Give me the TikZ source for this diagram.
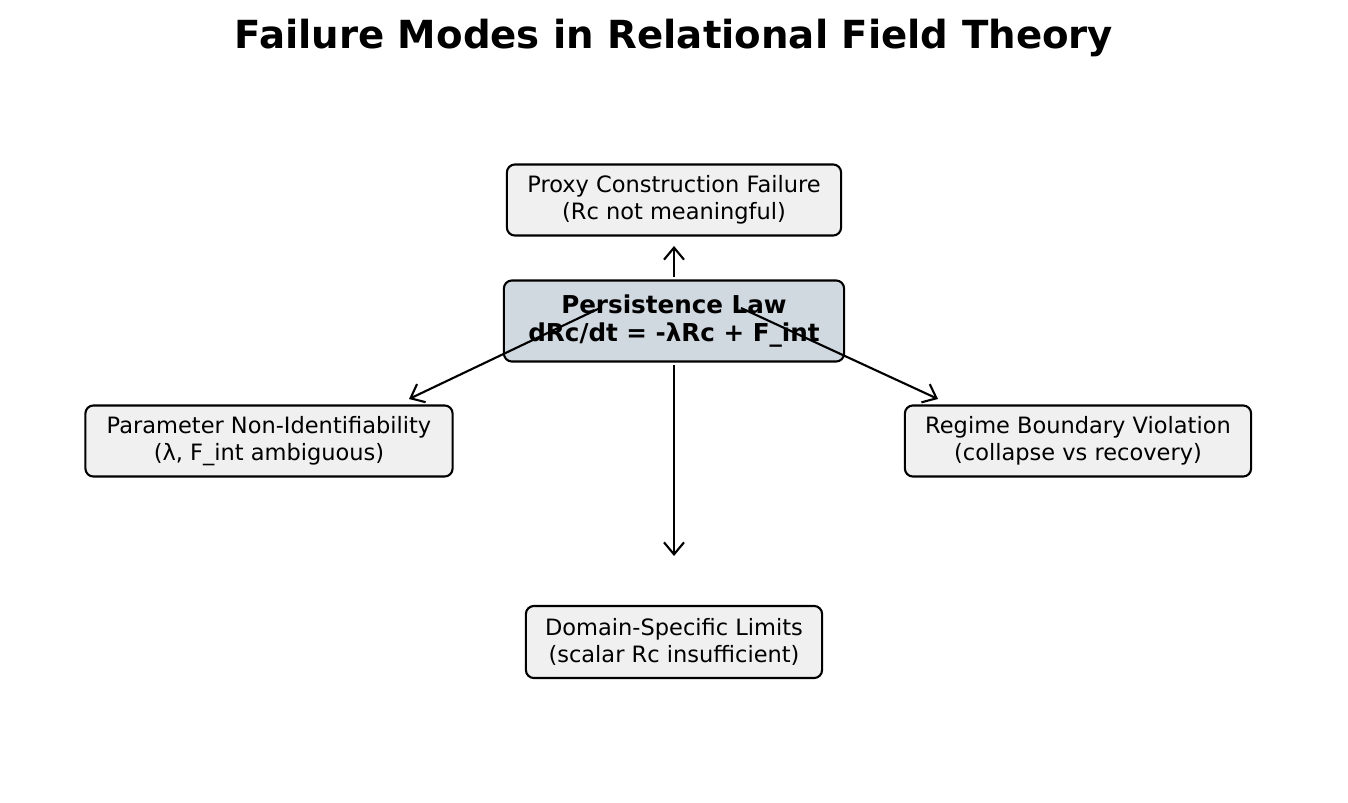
\documentclass[tikz,border=0pt]{standalone}
\usepackage{fontspec}
\setmainfont{DejaVu Sans}
\usetikzlibrary{arrows.meta,positioning}

\tikzset{mode/.style={draw,rounded corners=0.08cm,line width=0.6pt,fill=black!6,
                      align=center,inner sep=0pt,font=\fontsize{6.4}{7.6}\selectfont},
         law/.style={mode,fill={rgb,255:red,208;green,216;blue,224},
                     font=\fontsize{7}{7.8}\selectfont\bfseries},
         link/.style={->,>={Straight Barb[length=0.12cm,width=0.2cm]},line width=0.6pt}}

\begin{document}
\begin{tikzpicture}[x=0.01cm,y=-0.01cm]
\useasboundingbox (0,0) rectangle (1348,803);

\node[font=\fontsize{11}{13}\selectfont\bfseries] (title) at (674,38) {Failure Modes in Relational Field Theory};

\node[law,minimum width=3.4cm,minimum height=0.81cm] (law) at (674,321) {Persistence Law\\dRc/dt = -λRc + F\_int};
\node[mode,minimum width=3.34cm,minimum height=0.71cm] (proxy) at (674,200) {Proxy Construction Failure\\(Rc not meaningful)};
\node[mode,minimum width=3.67cm,minimum height=0.71cm] (param) at (269,441) {Parameter Non-Identifiability\\(λ, F\_int ambiguous)};
\node[mode,minimum width=3.46cm,minimum height=0.71cm] (regime) at (1078,441) {Regime Boundary Violation\\(collapse vs recovery)};
\node[mode,minimum width=2.96cm,minimum height=0.72cm] (domain) at (674,642) {Domain-Specific Limits\\(scalar Rc insufficient)};

% arrow ends
\coordinate (up0) at (674,277);   \coordinate (up1) at (674,246);
\coordinate (dn0) at (674,365);   \coordinate (dn1) at (674,556);
\coordinate (lf0) at (600,308);   \coordinate (lf1) at (409,399);
\coordinate (rt0) at (741,308);   \coordinate (rt1) at (938,399);

\draw[link] (up0) -- (up1);
\draw[link] (dn0) -- (dn1);
\draw[link] (lf0) -- (lf1);
\draw[link] (rt0) -- (rt1);

\end{tikzpicture}
\end{document}
